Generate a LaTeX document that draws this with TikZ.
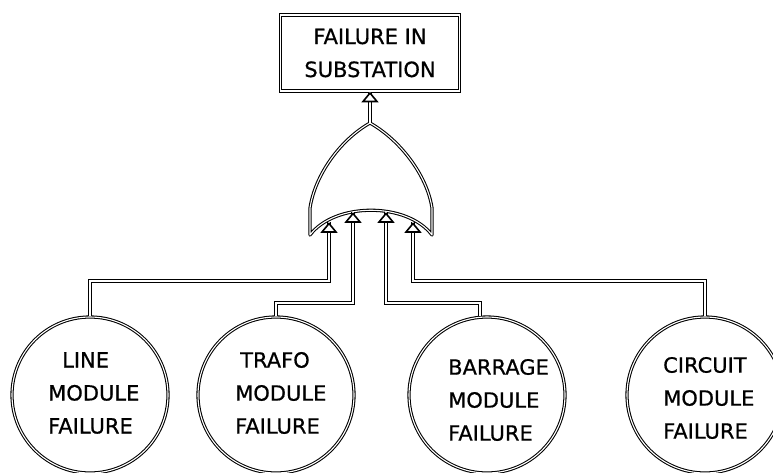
\documentclass[tikz,border=0pt]{standalone}
\usepackage{fontspec}
\setmainfont{DejaVu Sans}
\newfontfamily\lblfont{DejaVu Sans}[FakeBold=0.7]
\begin{document}
\begin{tikzpicture}[x=1pt,y=-1pt,
  dbl/.style={draw=black, double=white, line width=1.05pt, double distance=1.1pt},
  lbl/.style={font=\lblfont\fontsize{21}{33}\selectfont, inner sep=0pt},
  topbox/.style={dbl, minimum width=179pt, minimum height=76pt, inner sep=0pt, align=center, font=\lblfont\fontsize{21}{33}\selectfont},
  evt/.style={dbl, circle, minimum size=156pt, inner sep=0pt},
  txt/.style={lbl, align=left, anchor=west},
  tristyle/.style={draw=black, fill=white, line width=1.6pt, line join=miter},
  pics/tri/.style={code={\draw[tristyle] (0,1.5) -- (-7,10) -- (7,10) -- cycle;}}]
\useasboundingbox (0,0) rectangle (773,472);

% top event
\node[topbox] (top) at (370,53) {FAILURE IN\\SUBSTATION};

% OR gate
\coordinate (apex) at (370,123);
\draw[dbl, line join=round] (310,235) -- (310,208) .. controls (315,175) and (340,140) .. (apex)
  .. controls (400,140) and (427,175) .. (432,208) -- (432,235)
  .. controls (407,202) and (335,202) .. cycle;
\coordinate (in1) at (329,222);
\coordinate (in2) at (353,212);
\coordinate (in3) at (386,212);
\coordinate (in4) at (413,222);

% basic events
\node[evt] (c1) at (90,395) {};
\node[evt] (c2) at (276,395) {};
\node[evt] (c3) at (487,395) {};
\node[evt] (c4) at (705,395) {};
\node[txt] (t1) at (48,393) {\hspace*{14pt}LINE\\MODULE\\FAILURE};
\node[txt] (t2) at (235,393) {\hspace*{5pt}TRAFO\\MODULE\\FAILURE};
\node[txt] (t3) at (448,400) {BARRAGE\\MODULE\\FAILURE};
\node[txt] (t4) at (663,398) {CIRCUIT\\MODULE\\FAILURE};

% connectors
\draw[dbl] (apex) -- (top.south);
\draw[dbl] (in1) -- ++(0,59) -| (c1.north);
\draw[dbl] (in2) -- ++(0,91) -| (c2.north);
\draw[dbl] (in3) -- ++(0,91) -| ([xshift=-7pt]c3.north);
\draw[dbl] (in4) -- ++(0,59) -| (c4.north);

% arrow heads
\pic at (top.south) {tri};
\pic at (in1) {tri};
\pic at (in2) {tri};
\pic at (in3) {tri};
\pic at (in4) {tri};
\end{tikzpicture}
\end{document}
